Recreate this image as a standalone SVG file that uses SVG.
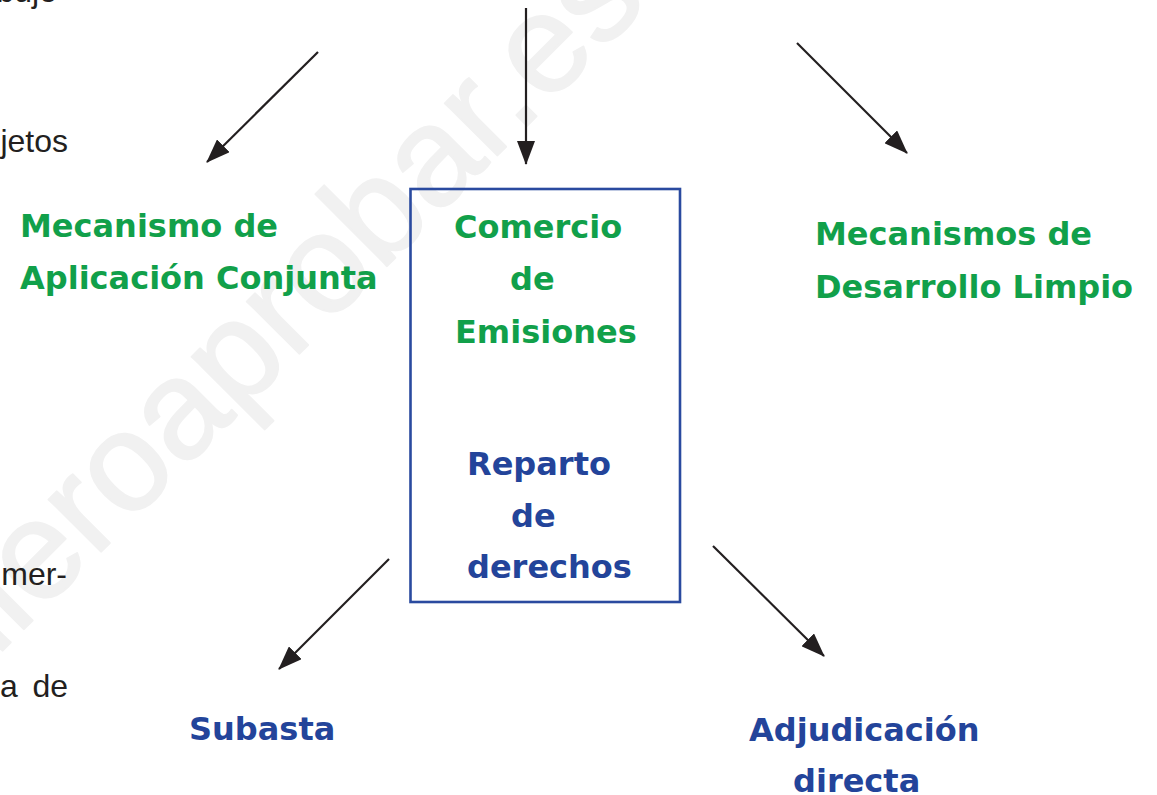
<svg xmlns="http://www.w3.org/2000/svg" width="1157" height="795" viewBox="0 0 1157 795">
  <style>
    .wm { font-family: "Liberation Sans", Arial, sans-serif; font-weight: normal; font-size: 140px; fill: #f1f1f1; stroke: #f1f1f1; stroke-width: 2; stroke-linejoin: round; }
    .body { font-family: "Liberation Sans", Arial, sans-serif; font-size: 32px; fill: #231f20; }
    .g { font-family: "DejaVu Sans", Verdana, sans-serif; font-weight: bold; font-size: 32px; fill: #11a04a; }
    .b { font-family: "DejaVu Sans", Verdana, sans-serif; font-weight: bold; font-size: 32px; fill: #23449a; }
    .conn { stroke: #231f20; stroke-width: 2.2; fill: none; marker-end: url(#ah); }
    .box { fill: none; stroke: #2a4a9f; stroke-width: 2.6; }
  </style>
  <defs>
    <marker id="ah" viewBox="0 0 24 18" refX="23" refY="9" markerWidth="24" markerHeight="18" markerUnits="userSpaceOnUse" orient="auto">
      <path d="M0,0 L24,9 L0,18 Z" fill="#231f20"/>
    </marker>
  </defs>
  <rect x="0" y="0" width="1157" height="795" fill="#ffffff"/>

  <g id="watermark">
    <text class="wm" transform="rotate(-45)" x="-593" y="461.7">quieroaprobar.es</text>
  </g>

  <g id="page-text">
    <text class="body" x="57" y="2" text-anchor="end">dibujo</text>
    <text class="body" x="68" y="152" text-anchor="end">jetos</text>
    <text class="body" x="67" y="585" text-anchor="end">mer-</text>
    <text class="body" x="0" y="697">a</text>
    <text class="body" x="68" y="697" text-anchor="end">de</text>
  </g>

  <g id="connectors">
    <line class="conn" x1="318" y1="52" x2="207" y2="162"/>
    <line class="conn" x1="526" y1="8" x2="526" y2="164"/>
    <line class="conn" x1="797" y1="43" x2="907" y2="153"/>
    <line class="conn" x1="389" y1="559" x2="279" y2="669"/>
    <line class="conn" x1="713" y1="546" x2="824" y2="656"/>
  </g>

  <g id="node-aplicacion-conjunta">
    <text class="g" x="20" y="237">Mecanismo de</text>
    <text class="g" x="20" y="289">Aplicación Conjunta</text>
  </g>

  <g id="node-comercio-emisiones">
    <rect class="box" x="410.5" y="189" width="269.5" height="413"/>
    <text class="g" x="454" y="238">Comercio</text>
    <text class="g" x="510" y="290">de</text>
    <text class="g" x="455" y="343">Emisiones</text>
    <text class="b" x="467" y="475">Reparto</text>
    <text class="b" x="511" y="527">de</text>
    <text class="b" x="467" y="578">derechos</text>
  </g>

  <g id="node-desarrollo-limpio">
    <text class="g" x="815" y="245">Mecanismos de</text>
    <text class="g" x="815" y="298">Desarrollo Limpio</text>
  </g>

  <g id="node-subasta">
    <text class="b" x="189" y="740">Subasta</text>
  </g>

  <g id="node-adjudicacion">
    <text class="b" x="749" y="741">Adjudicación</text>
    <text class="b" x="793" y="792">directa</text>
  </g>
</svg>
